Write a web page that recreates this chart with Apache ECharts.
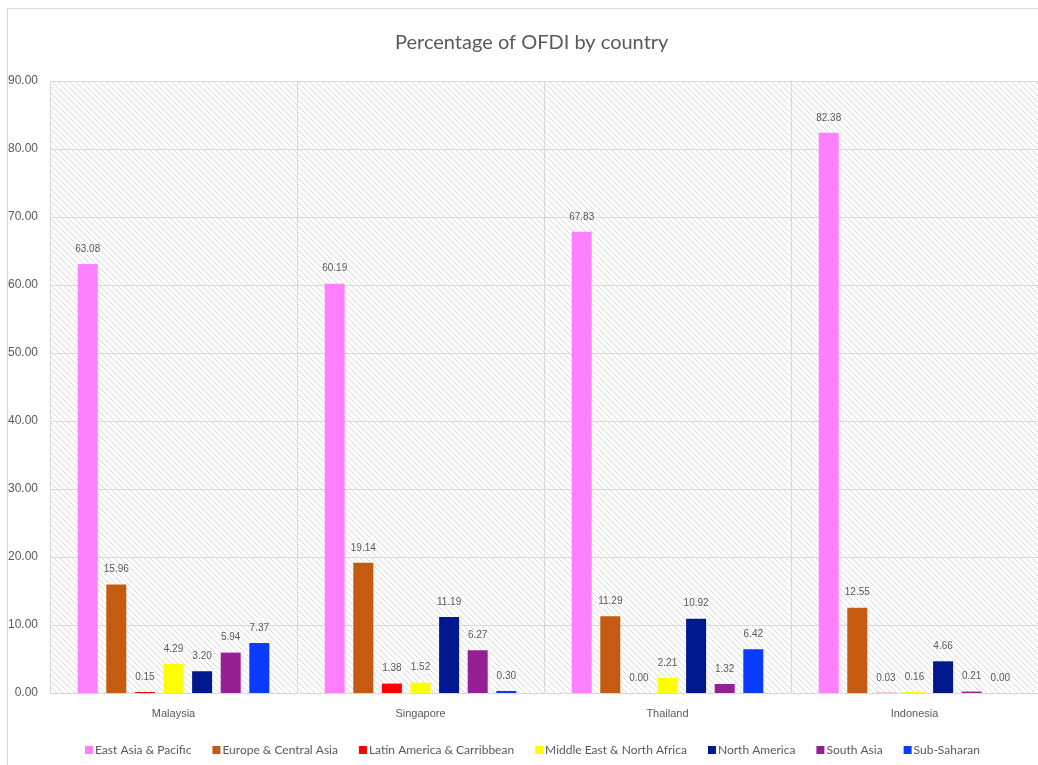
<!DOCTYPE html>
<html>
<head>
<meta charset="utf-8">
<script src="https://cdn.jsdelivr.net/npm/echarts@6/dist/echarts.min.js"></script>
<style>
  html, body { margin: 0; padding: 0; background: #fff; }
  #chart { width: 1038px; height: 765px; }
</style>
</head>
<body>
<div id="chart"></div>
<script>
const countries = ['Malaysia', 'Singapore', 'Thailand', 'Indonesia']
const regions = ['East Asia & Pacific', 'Europe & Central Asia', 'Latin America & Carribbean',
  'Middle East & North Africa', 'North America', 'South Asia', 'Sub-Saharan']
const colors = ['#FF80FF', '#C55A11', '#FF0000', '#FFFF00', '#00188F', '#952093', '#0A3CFF']

// values per region, in country order
const eastAsia = [63.08, 60.19, 67.83, 82.38]
const europe = [15.96, 19.14, 11.29, 12.55]
const latinAmerica = [0.15, 1.38, 0.00, 0.03]
const middleEast = [4.29, 1.52, 2.21, 0.16]
const northAmerica = [3.20, 11.19, 10.92, 4.66]
const southAsia = [5.94, 6.27, 1.32, 0.21]
const subSaharan = [7.37, 0.30, 6.42, 0.00]
const seriesData = [eastAsia, europe, latinAmerica, middleEast, northAmerica, southAsia, subSaharan]

const yTicks = [0, 10, 20, 30, 40, 50, 60, 70, 80, 90]

// hatch pattern for the plot background
function hatch() {
  const c = document.createElement('canvas')
  c.width = 6
  c.height = 6
  const ctx = c.getContext('2d')
  ctx.fillStyle = '#fff'
  ctx.fillRect(0, 0, 6, 6)
  ctx.strokeStyle = '#d9d9d9'
  ctx.lineWidth = 1
  ctx.beginPath()
  ctx.moveTo(-1, -1); ctx.lineTo(7, 7)
  ctx.moveTo(-4, 2); ctx.lineTo(4, 10)
  ctx.moveTo(2, -4); ctx.lineTo(10, 4)
  ctx.stroke()
  return c
}

const chart = echarts.init(document.getElementById('chart'))
const labelFont = 'Liberation Sans, Arial, sans-serif'

chart.setOption({
  animation: false,
  color: colors,
  title: {
    text: 'Percentage of OFDI by country',
    left: 390,
    top: 28,
    textStyle: { fontFamily: 'Lato, sans-serif', fontSize: 20, fontWeight: 'normal', color: '#595959' }
  },
  graphic: [{
    type: 'rect',
    shape: { x: 7.5, y: 8.5, width: 1100, height: 800 },
    style: { fill: 'none', stroke: '#d9d9d9', lineWidth: 1 },
    silent: true
  }],
  legend: {
    data: regions,
    left: 80,
    top: 739,
    icon: 'rect',
    itemWidth: 8,
    itemHeight: 8,
    itemGap: 21,
    textStyle: { fontFamily: 'Lato, sans-serif', fontSize: 12, color: '#595959', padding: [0, 0, 0, -3] }
  },
  grid: {
    left: 50,
    top: 81,
    width: 990,
    height: 612,
    show: true,
    borderWidth: 0,
    backgroundColor: { image: hatch(), repeat: 'repeat' }
  },
  xAxis: {
    type: 'category',
    data: countries,
    axisTick: { show: false },
    axisLine: { lineStyle: { color: '#d9d9d9' } },
    splitLine: { show: true, lineStyle: { color: '#d9d9d9' } },
    axisLabel: { fontFamily: labelFont, fontSize: 11, color: '#595959', margin: 15 }
  },
  yAxis: {
    type: 'value',
    min: yTicks[0],
    max: yTicks[yTicks.length - 1],
    interval: 10,
    axisLine: { show: false },
    axisTick: { show: false },
    splitLine: { lineStyle: { color: '#d9d9d9' } },
    axisLabel: {
      fontFamily: labelFont, fontSize: 12, color: '#595959', margin: 12,
      formatter: v => v.toFixed(2)
    }
  },
  series: regions.map((name, i) => ({
    name,
    type: 'bar',
    data: seriesData[i],
    barWidth: 20,
    barGap: '43%',
    itemStyle: { color: colors[i] },
    label: {
      show: true,
      position: 'top',
      distance: 10,
      fontFamily: labelFont,
      fontSize: 10,
      color: '#595959',
      formatter: p => p.value.toFixed(2)
    }
  }))
})
</script>
</body>
</html>
